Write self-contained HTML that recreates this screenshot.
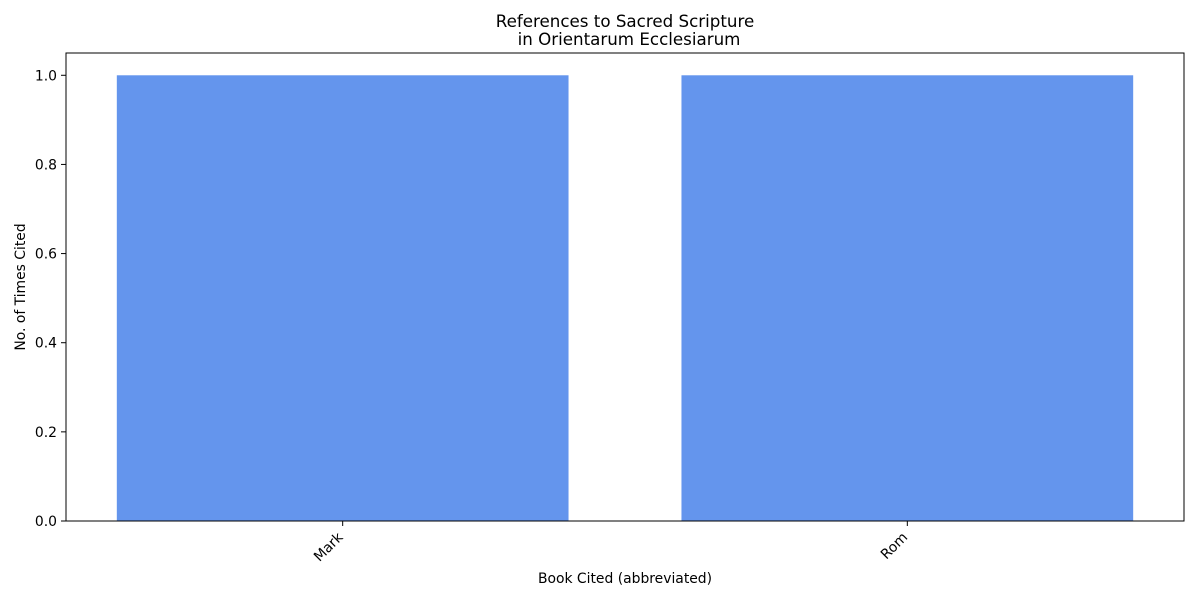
<!DOCTYPE html>
<html><head><meta charset="utf-8"><style>
body{margin:0;background:#fff;}
svg text{font-family:"DejaVu Sans","Liberation Sans",sans-serif;fill:#000;}
</style></head><body>
<svg width="1200" height="600" viewBox="0 0 1200 600">
<g id="g"></g>
</svg>
<script>
const categories=["Mark","Rom"];
const values=[1,1];
const yTicks=[0,0.2,0.4,0.6,0.8,1.0];
const yTickLabels=["0.0","0.2","0.4","0.6","0.8","1.0"];
const L=66,R=1184,T=53,B=521;
const xMin=-0.49,xMax=1.49,yMax=1.05;
const sx=v=>L+(v-xMin)/(xMax-xMin)*(R-L);
const sy=v=>B-v/yMax*(B-T);
const NS="http://www.w3.org/2000/svg";
const g=document.getElementById('g');
function mk(t,a,txt){const e=document.createElementNS(NS,t);for(const k in a)e.setAttribute(k,a[k]);if(txt!==undefined)e.textContent=txt;g.appendChild(e);return e;}
categories.forEach((c,i)=>{
  const b=mk('rect',{x:sx(i-0.4),y:sy(values[i]),width:sx(i+0.4)-sx(i-0.4),height:sy(0)-sy(values[i]),fill:'#6495ED'});
  
  
  const x=sx(i);
  const tk=mk('line',{x1:x,x2:x,y1:B,y2:B+5,stroke:'#000','stroke-width':1});
  
  
  const t=mk('text',{x:x+1,y:B+17,'font-size':13.9,'text-anchor':'end',transform:`rotate(-45 ${x+1} ${B+17})`},c);
  
  
});
yTicks.forEach((v,i)=>{
  const y=sy(v);
  const tk=mk('line',{x1:L-5,x2:L,y1:y,y2:y,stroke:'#000','stroke-width':1});
  
  
  const t=mk('text',{x:L-9,y:y+5,'font-size':13.9,'text-anchor':'end'},yTickLabels[i]);
  
  
});
const f=mk('rect',{x:L,y:T,width:R-L,height:B-T,fill:'none',stroke:'#000','stroke-width':1});


let e;
e=mk('text',{x:625,y:27,'font-size':16.7,'text-anchor':'middle'},'References to Sacred Scripture');


e=mk('text',{x:629,y:45,'font-size':16.7,'text-anchor':'middle'},'in Orientarum Ecclesiarum');


e=mk('text',{x:625,y:583,'font-size':13.9,'text-anchor':'middle'},'Book Cited (abbreviated)');


e=mk('text',{x:25,y:287,'font-size':13.9,'text-anchor':'middle',transform:'rotate(-90 25 287)'},'No. of Times Cited');


</script>
</body></html>
